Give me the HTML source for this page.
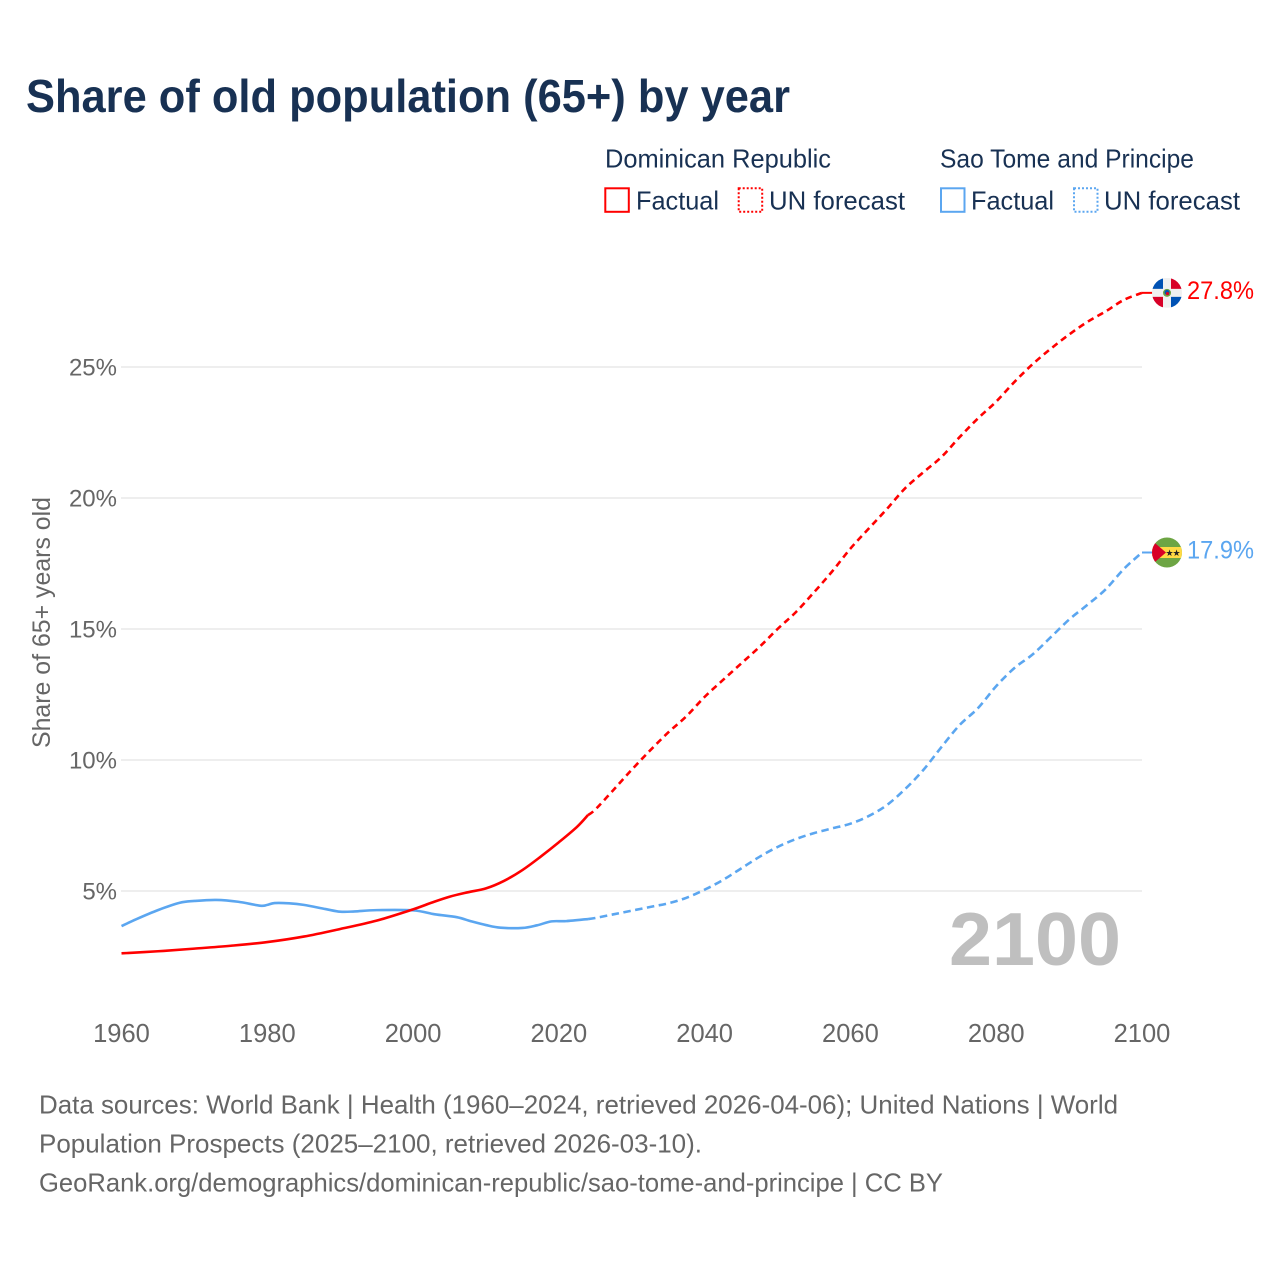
<!DOCTYPE html>
<html lang="en">
<head>
<meta charset="utf-8">
<title>Share of old population (65+) by year</title>
<style>
html,body{margin:0;padding:0;background:#fff;}
svg{display:block;font-family:"Liberation Sans",sans-serif;}
</style>
</head>
<body>
<svg id="chart" xmlns="http://www.w3.org/2000/svg" width="1280" height="1280" viewBox="0 0 1280 1280">
  <rect x="0" y="0" width="1280" height="1280" fill="#fff"/>
  <text x="26" y="112" font-size="46" font-weight="700" fill="#183153" textLength="764" lengthAdjust="spacingAndGlyphs">Share of old population (65+) by year</text>

  <g font-size="26" fill="#183153">
    <text x="605" y="167.500" textLength="226" lengthAdjust="spacingAndGlyphs">Dominican Republic</text>
    <rect x="605.300" y="188.300" width="23.500" height="23.500" fill="none" stroke="#ff0000" stroke-width="2"/>
    <text x="636" y="209.500" textLength="83" lengthAdjust="spacingAndGlyphs">Factual</text>
    <rect x="738.700" y="188.300" width="23.500" height="23.500" fill="none" stroke="#ff0000" stroke-width="2" stroke-dasharray="2 2"/>
    <text x="769" y="209.500" textLength="136" lengthAdjust="spacingAndGlyphs">UN forecast</text>
    <text x="940" y="167.500" textLength="254" lengthAdjust="spacingAndGlyphs">Sao Tome and Principe</text>
    <rect x="941" y="188.300" width="23.500" height="23.500" fill="none" stroke="#5ba6f0" stroke-width="2"/>
    <text x="971" y="209.500" textLength="83" lengthAdjust="spacingAndGlyphs">Factual</text>
    <rect x="1074" y="188.300" width="23.500" height="23.500" fill="none" stroke="#5ba6f0" stroke-width="2" stroke-dasharray="2 2"/>
    <text x="1104" y="209.500" textLength="136" lengthAdjust="spacingAndGlyphs">UN forecast</text>
  </g>

  <text transform="translate(50,622.500) rotate(-90)" text-anchor="middle" font-size="25" fill="#666" textLength="251" lengthAdjust="spacingAndGlyphs">Share of 65+ years old</text>

  <g id="grid"></g>
  <g id="yticks" font-size="24" fill="#666" text-anchor="end"></g>
  <g id="xticks" font-size="25.500" fill="#666" text-anchor="middle"></g>

  <text x="949" y="965" font-size="75" font-weight="700" fill="#bfbfbf" textLength="172" lengthAdjust="spacingAndGlyphs">2100</text>

  <g id="series"></g>

  <g id="flag-do">
    <clipPath id="clip-do"><circle cx="0" cy="0" r="15"/></clipPath>
    <g clip-path="url(#clip-do)">
      <rect x="-15" y="-15" width="30" height="30" fill="#f0f0f0"/>
      <rect x="-15" y="-15" width="11" height="11" fill="#0052b4"/>
      <rect x="4" y="4" width="11" height="11" fill="#0052b4"/>
      <rect x="4" y="-15" width="11" height="11" fill="#d80027"/>
      <rect x="-15" y="4" width="11" height="11" fill="#d80027"/>
      <circle cx="0" cy="0" r="4" fill="#6da544"/>
      <circle cx="0" cy="-0.500" r="2.500" fill="#0052b4"/>
      <circle cx="0.500" cy="0.800" r="1.600" fill="#d80027"/>
    </g>
  </g>
  <g id="flag-st">
    <clipPath id="clip-st"><circle cx="0" cy="0" r="15"/></clipPath>
    <g clip-path="url(#clip-st)">
      <rect x="-15" y="-15" width="30" height="30" fill="#6da544"/>
      <rect x="-15" y="-5.500" width="30" height="11" fill="#ffda44"/>
      <polygon points="-15,-12 -1,0 -15,12" fill="#d80027"/>
      <text x="2.500" y="3.500" font-size="9" fill="#222" text-anchor="middle">★</text>
      <text x="9.500" y="3.500" font-size="9" fill="#222" text-anchor="middle">★</text>
    </g>
  </g>
  <text id="label-do" x="1187" font-size="25" fill="#ff0000" textLength="67" lengthAdjust="spacingAndGlyphs"></text>
  <text id="label-st" x="1187" font-size="25" fill="#5ba6f0" textLength="67" lengthAdjust="spacingAndGlyphs"></text>

  <g font-size="26" fill="#666">
    <text x="39" y="1113.500" textLength="1079" lengthAdjust="spacingAndGlyphs">Data sources: World Bank | Health (1960–2024, retrieved 2026-04-06); United Nations | World</text>
    <text x="39" y="1152.500" textLength="663" lengthAdjust="spacingAndGlyphs">Population Prospects (2025–2100, retrieved 2026-03-10).</text>
    <text x="39" y="1191.500" textLength="904" lengthAdjust="spacingAndGlyphs">GeoRank.org/demographics/dominican-republic/sao-tome-and-principe | CC BY</text>
  </g>
</svg>

<script>
const yTickValues = [5, 10, 15, 20, 25];
const xTickValues = [1960, 1980, 2000, 2020, 2040, 2060, 2080, 2100];

const doFactualYears = [1960, 1965, 1970, 1975, 1980, 1985, 1990, 1995, 2000, 2002.5, 2005, 2007.5, 2010, 2012.5, 2015, 2017.5, 2020, 2022.5, 2024];
const doFactualValues = [2.62, 2.70, 2.80, 2.91, 3.05, 3.26, 3.55, 3.87, 4.30, 4.55, 4.78, 4.95, 5.10, 5.39, 5.80, 6.31, 6.86, 7.45, 7.90];

const stFactualYears = [1960, 1962, 1965, 1968, 1970, 1973, 1976, 1979, 1980, 1981, 1983, 1985, 1988, 1990, 1992, 1995, 2000, 2003, 2006, 2008, 2010, 2012, 2015, 2017, 2019, 2021, 2024];
const stFactualValues = [3.66, 3.92, 4.27, 4.55, 4.62, 4.66, 4.59, 4.44, 4.47, 4.54, 4.53, 4.47, 4.31, 4.21, 4.22, 4.27, 4.26, 4.11, 4.00, 3.84, 3.70, 3.60, 3.59, 3.69, 3.84, 3.85, 3.93];

const forecastYears = [2024, 2025, 2027.5, 2030, 2032.5, 2035, 2037.5, 2040, 2042.5, 2045, 2047.5, 2050, 2052.5, 2055, 2057.5, 2060, 2062.5, 2065, 2067.5, 2070, 2072.5, 2075, 2077.5, 2080, 2082.5, 2085, 2087.5, 2090, 2092.5, 2095, 2097.5, 2100];
const doForecastValues = [7.90, 8.11, 8.86, 9.63, 10.36, 11.05, 11.67, 12.41, 13.05, 13.68, 14.31, 15.00, 15.64, 16.40, 17.20, 18.07, 18.83, 19.58, 20.37, 20.98, 21.57, 22.33, 23.04, 23.68, 24.43, 25.11, 25.70, 26.24, 26.72, 27.12, 27.56, 27.83];
const stForecastValues = [3.93, 3.97, 4.11, 4.25, 4.39, 4.53, 4.74, 5.05, 5.42, 5.86, 6.30, 6.68, 6.98, 7.21, 7.39, 7.57, 7.86, 8.28, 8.89, 9.62, 10.50, 11.34, 11.98, 12.82, 13.51, 14.03, 14.69, 15.36, 15.92, 16.51, 17.29, 17.92];

const SVGNS = 'http://www.w3.org/2000/svg';
function xScale(year) { return 121.5 + (year - 1960) * (1142 - 121.5) / 140; }
function yScale(value) { return 891 - (value - 5) * 26.2; }

function smoothPath(years, values) {
  const pts = years.map((yr, i) => [xScale(yr), yScale(values[i])]);
  let d = 'M' + pts[0][0].toFixed(2) + ' ' + pts[0][1].toFixed(2);
  for (let i = 0; i < pts.length - 1; i++) {
    const p0 = pts[Math.max(i - 1, 0)];
    const p1 = pts[i];
    const p2 = pts[i + 1];
    const p3 = pts[Math.min(i + 2, pts.length - 1)];
    const c1x = p1[0] + (p2[0] - p0[0]) / 6;
    const c1y = p1[1] + (p2[1] - p0[1]) / 6;
    const c2x = p2[0] - (p3[0] - p1[0]) / 6;
    const c2y = p2[1] - (p3[1] - p1[1]) / 6;
    d += 'C' + c1x.toFixed(2) + ' ' + c1y.toFixed(2) + ' ' + c2x.toFixed(2) + ' ' + c2y.toFixed(2) + ' ' + p2[0].toFixed(2) + ' ' + p2[1].toFixed(2);
  }
  return d;
}

const grid = document.getElementById('grid');
const yticks = document.getElementById('yticks');
yTickValues.forEach(function (v) {
  const line = document.createElementNS(SVGNS, 'line');
  
  
  line.setAttribute('x1', 121);
  line.setAttribute('x2', 1142);
  line.setAttribute('y1', yScale(v));
  line.setAttribute('y2', yScale(v));
  line.setAttribute('stroke', '#eeeeee');
  line.setAttribute('stroke-width', '2');
  grid.appendChild(line);

  const label = document.createElementNS(SVGNS, 'text');
  
  
  label.setAttribute('x', 117);
  label.setAttribute('y', yScale(v) + 8.5);
  label.textContent = v + '%';
  yticks.appendChild(label);
});

const xticks = document.getElementById('xticks');
xTickValues.forEach(function (yr) {
  const label = document.createElementNS(SVGNS, 'text');
  
  
  label.setAttribute('x', xScale(yr));
  label.setAttribute('y', 1042);
  label.textContent = yr;
  xticks.appendChild(label);
});

const seriesGroup = document.getElementById('series');
function drawLine(name, d, color, dash) {
  const path = document.createElementNS(SVGNS, 'path');
  
  
  path.setAttribute('d', d);
  path.setAttribute('fill', 'none');
  path.setAttribute('stroke', color);
  path.setAttribute('stroke-width', '2.6');
  if (dash) path.setAttribute('stroke-dasharray', dash);
  seriesGroup.appendChild(path);
}
const RED = '#ff0000';
const BLUE = '#5ba6f0';
drawLine('line-sao-tome-factual', smoothPath(stFactualYears, stFactualValues), BLUE);
drawLine('line-sao-tome-forecast', smoothPath(forecastYears, stForecastValues), BLUE, '7.5 4.5');
drawLine('line-dominican-factual', smoothPath(doFactualYears, doFactualValues), RED);
drawLine('line-dominican-forecast', smoothPath(forecastYears, doForecastValues), RED, '6.5 4.5');

function placeEnd(flagId, labelId, lastValue, color, name) {
  const y = yScale(lastValue);
  const tail = document.createElementNS(SVGNS, 'line');
  
  
  tail.setAttribute('x1', xScale(2100));
  tail.setAttribute('x2', 1155);
  tail.setAttribute('y1', y);
  tail.setAttribute('y2', y);
  tail.setAttribute('stroke', color);
  tail.setAttribute('stroke-width', '2');
  seriesGroup.appendChild(tail);
  document.getElementById(flagId).setAttribute('transform', 'translate(1167,' + y.toFixed(2) + ')');
  const label = document.getElementById(labelId);
  label.setAttribute('y', (y + 6).toFixed(2));
  label.textContent = lastValue.toFixed(1) + '%';
}
placeEnd('flag-do', 'label-do', doForecastValues[doForecastValues.length - 1], RED, 'connector-dominican');
placeEnd('flag-st', 'label-st', stForecastValues[stForecastValues.length - 1], BLUE, 'connector-sao-tome');
</script>
</body>
</html>
